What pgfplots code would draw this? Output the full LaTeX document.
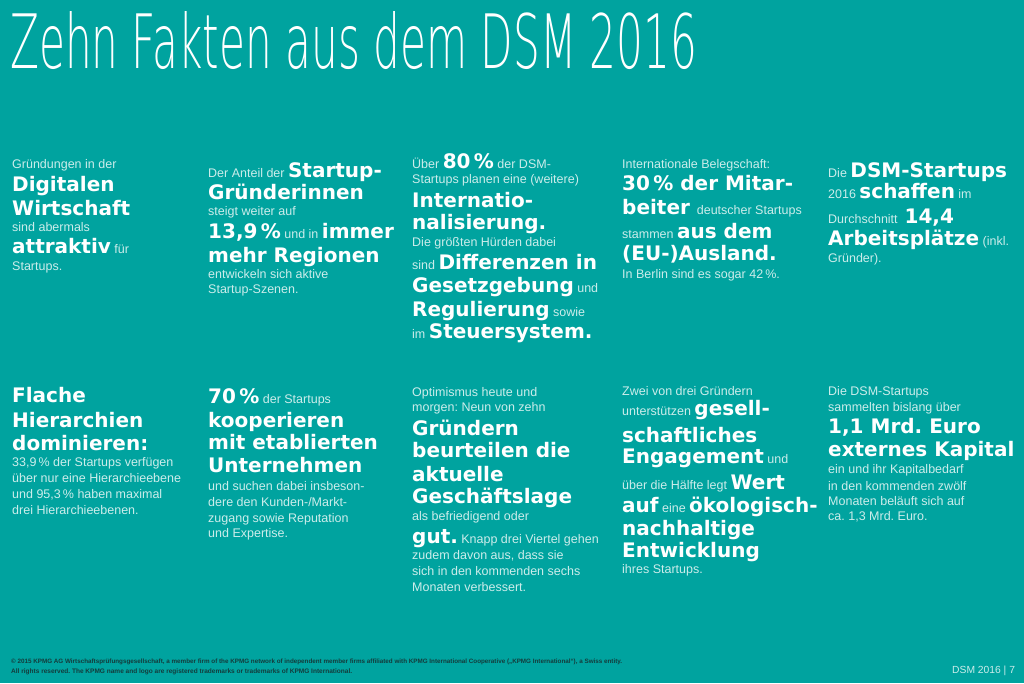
\documentclass[border=0pt]{standalone}
\usepackage{fontspec}
\usepackage{graphicx}
\usepackage{pgfplots}
\pgfplotsset{compat=1.18}
\setmainfont{Liberation Sans}
\newfontfamily\dv{DejaVu Sans}
\IfFontExistsTF{DejaVu Sans ExtraLight}{\newfontfamily\thin{DejaVu Sans ExtraLight}}{\newfontfamily\thin{DejaVu Sans}}
\definecolor{bgc}{HTML}{00A39F}
\definecolor{smc}{HTML}{CCEDEB}
\definecolor{ftc}{HTML}{143C3C}
\frenchspacing
\newcommand\s[1]{{\color{smc}\fontsize{12.5}{14}\selectfont\relax#1}}
\newcommand\B[1]{{\color{white}\fontsize{20}{22}\selectfont\dv\bfseries\relax#1}}
\newcommand\Ln[3]{\node[anchor=base west,inner sep=0pt] at (axis cs:#1,#2) {#3};}
\begin{document}
\begin{tikzpicture}
\begin{axis}[hide axis, scale only axis, width=1024pt, height=683pt,
  xmin=0, xmax=1024, ymin=0, ymax=683, y dir=reverse, clip=false]
\addplot[draw=none] coordinates {(0,0) (1024,683)};
\fill[bgc] (axis cs:0,0) rectangle (axis cs:1024,683);
% title
\node[anchor=base west,inner sep=0pt] at (axis cs:10,68) {\resizebox{687pt}{57pt}{\thin\color{white}Zehn Fakten aus dem DSM 2016}};
% block 1
\Ln{12}{168}{\s{Gründungen in der}}
\Ln{12}{191}{\B{Digitalen}}
\Ln{12}{215}{\B{Wirtschaft}}
\Ln{12}{231}{\s{sind abermals}}
\Ln{12}{253}{\B{attraktiv}\s{ für}}
\Ln{12}{270}{\s{Startups.}}
% block 2
\Ln{208}{177}{\s{Der Anteil der }\B{Startup-}}
\Ln{208}{199}{\B{Gründerinnen}}
\Ln{208}{215}{\s{steigt weiter auf}}
\Ln{208}{238}{\B{13,9\,\%}\s{ und in }\B{immer}}
\Ln{208}{262}{\B{mehr Regionen}}
\Ln{208}{278}{\s{entwickeln sich aktive}}
\Ln{208}{293}{\s{Startup-Szenen.}}
% block 3
\Ln{412}{168}{\s{Über }\B{80\,\%}\s{ der DSM-}}
\Ln{412}{183}{\s{Startups planen eine (weitere)}}
\Ln{412}{207}{\B{Internatio-}}
\Ln{412}{229}{\B{nalisierung.}}
\Ln{412}{246}{\s{Die größten Hürden dabei}}
\Ln{412}{269}{\s{sind }\B{Differenzen in}}
\Ln{412}{292}{\B{Gesetzgebung}\s{ und}}
\Ln{412}{316}{\B{Regulierung}\s{ sowie}}
\Ln{412}{338}{\s{im }\B{Steuersystem.}}
% block 4
\Ln{622}{168}{\s{Internationale Belegschaft:}}
\Ln{622}{190}{\B{30\,\% der Mitar-}}
\Ln{622}{214}{\B{beiter}\s{ \ deutscher Startups}}
\Ln{622}{238}{\s{stammen }\B{aus dem}}
\Ln{622}{260}{\B{(EU-)Ausland.}}
\Ln{622}{278}{\s{In Berlin sind es sogar 42\,\%.}}
% block 5
\Ln{828}{177}{\s{Die }\B{DSM-Startups}}
\Ln{828}{198}{\s{2016 }\B{schaffen}\s{ im}}
\Ln{828}{223}{\s{Durchschnitt \ }\B{14,4}}
\Ln{828}{245}{\B{Arbeitsplätze}\s{ (inkl.}}
\Ln{828}{262}{\s{Gründer).}}
% block 6
\Ln{12}{402}{\B{Flache}}
\Ln{12}{427}{\B{Hierarchien}}
\Ln{12}{450}{\B{dominieren:}}
\Ln{12}{466}{\s{33,9\,\% der Startups verfügen}}
\Ln{12}{482}{\s{über nur eine Hierarchieebene}}
\Ln{12}{498}{\s{und 95,3\,\% haben maximal}}
\Ln{12}{514}{\s{drei Hierarchieebenen.}}
% block 7
\Ln{208}{403}{\B{70\,\%}\s{ der Startups}}
\Ln{208}{427}{\B{kooperieren}}
\Ln{208}{449}{\B{mit etablierten}}
\Ln{208}{472}{\B{Unternehmen}}
\Ln{208}{490}{\s{und suchen dabei insbeson-}}
\Ln{208}{506}{\s{dere den Kunden-/Markt-}}
\Ln{208}{522}{\s{zugang sowie Reputation}}
\Ln{208}{537}{\s{und Expertise.}}
% block 8
\Ln{412}{396}{\s{Optimismus heute und}}
\Ln{412}{411}{\s{morgen: Neun von zehn}}
\Ln{412}{435}{\B{Gründern}}
\Ln{412}{457}{\B{beurteilen die}}
\Ln{412}{481}{\B{aktuelle}}
\Ln{412}{503}{\B{Geschäftslage}}
\Ln{412}{520}{\s{als befriedigend oder}}
\Ln{412}{543}{\B{gut.}\s{ Knapp drei Viertel gehen}}
\Ln{412}{559}{\s{zudem davon aus, dass sie}}
\Ln{412}{575}{\s{sich in den kommenden sechs}}
\Ln{412}{591}{\s{Monaten verbessert.}}
% block 9
\Ln{622}{395}{\s{Zwei von drei Gründern}}
\Ln{622}{415}{\s{unterstützen }\B{gesell-}}
\Ln{622}{442}{\B{schaftliches}}
\Ln{622}{463}{\B{Engagement}\s{ und}}
\Ln{622}{489}{\s{über die Hälfte legt }\B{Wert}}
\Ln{622}{512}{\B{auf}\s{ eine }\B{ökologisch-}}
\Ln{622}{535}{\B{nachhaltige}}
\Ln{622}{557}{\B{Entwicklung}}
\Ln{622}{573}{\s{ihres Startups.}}
% block 10
\Ln{828}{395}{\s{Die DSM-Startups}}
\Ln{828}{411}{\s{sammelten bislang über}}
\Ln{828}{433}{\B{1,1 Mrd. Euro}}
\Ln{828}{456}{\B{externes Kapital}}
\Ln{828}{473}{\s{ein und ihr Kapitalbedarf}}
\Ln{828}{490}{\s{in den kommenden zwölf}}
\Ln{828}{505}{\s{Monaten beläuft sich auf}}
\Ln{828}{520}{\s{ca. 1,3 Mrd. Euro.}}
% footer
\node[anchor=base west,inner sep=0pt] at (axis cs:11,663) {\resizebox{611pt}{!}{\color{ftc}\bfseries © 2015 KPMG AG Wirtschaftsprüfungsgesellschaft, a member firm of the KPMG network of independent member firms affiliated with KPMG International Cooperative („KPMG International“), a Swiss entity.}};
\node[anchor=base west,inner sep=0pt] at (axis cs:11,673) {\resizebox{341pt}{!}{\color{ftc}\bfseries All rights reserved. The KPMG name and logo are registered trademarks or trademarks of KPMG International.}};
\node[anchor=base west,inner sep=0pt] at (axis cs:952,673) {\color{smc}\fontsize{10.3}{12}\selectfont DSM 2016 | 7};
\end{axis}
\end{tikzpicture}
\end{document}
